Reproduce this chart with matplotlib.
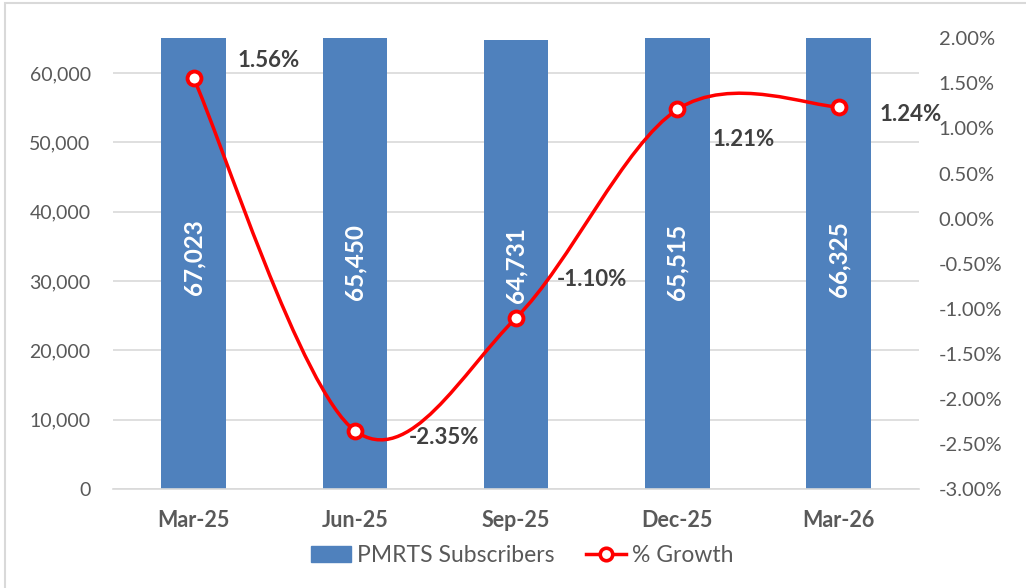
import matplotlib.pyplot as plt
from matplotlib.path import Path
from matplotlib.patches import PathPatch, Rectangle
from matplotlib.lines import Line2D
from matplotlib.ticker import FuncFormatter

quarters = ['Mar-25', 'Jun-25', 'Sep-25', 'Dec-25', 'Mar-26']
subscribers = [67023, 65450, 64731, 65515, 66325]
growth = [1.56, -2.35, -1.10, 1.21, 1.24]
growth_labels = ['1.56%', '-2.35%', '-1.10%', '1.21%', '1.24%']
label_offsets = [(44, 17), (54, -7), (41, 38), (35, -30), (41, -8)]

plt.rcParams['font.family'] = ['Lato', 'DejaVu Sans']
grey = '#595959'

fig = plt.figure(figsize=(10.26, 5.88), dpi=100)
ax = fig.add_axes([0.110, 0.168, 0.786, 0.767])
ax2 = ax.twinx()

x = list(range(len(quarters)))
ax.bar(x, subscribers, width=0.4, color='#4F81BD', zorder=2, label='PMRTS Subscribers')
for xi, v in zip(x, subscribers):
    ax.text(xi, v / 2, f'{v:,}', rotation=90, ha='center', va='center',
            color='white', fontsize=17.5, fontweight='bold', zorder=3)

ax.set_ylim(0, 65000)
ax.set_xlim(-0.5, len(quarters) - 0.5)
ax.set_yticks(range(0, 60001, 10000))
ax.yaxis.set_major_formatter(FuncFormatter(lambda v, p: f'{int(v):,}'))
ax.set_xticks(x)
ax.set_xticklabels(quarters, fontweight='bold', fontsize=15.5, color=grey)
ax.tick_params(axis='y', labelsize=14, labelcolor=grey, length=0, pad=16)
ax.tick_params(axis='x', length=0, pad=15)
ax.grid(axis='y', color='#D9D9D9', linewidth=1.2, zorder=0)
ax.set_axisbelow(True)
for s in ['top', 'left', 'right']:
    ax.spines[s].set_visible(False)
ax.spines['bottom'].set_color('#D9D9D9')
ax.spines['bottom'].set_linewidth(1.2)

# smoothed line (Catmull-Rom style bezier through the points)
pts = list(zip(x, growth))
verts = [pts[0]]
codes = [Path.MOVETO]
for i in range(len(pts) - 1):
    p0 = pts[i - 1] if i > 0 else pts[i]
    p1 = pts[i]
    p2 = pts[i + 1]
    p3 = pts[i + 2] if i + 2 < len(pts) else pts[i + 1]
    c1 = (p1[0] + (p2[0] - p0[0]) / 6, p1[1] + (p2[1] - p0[1]) / 6)
    c2 = (p2[0] - (p3[0] - p1[0]) / 6, p2[1] - (p3[1] - p1[1]) / 6)
    verts += [c1, c2, p2]
    codes += [Path.CURVE4] * 3
ax2.add_patch(PathPatch(Path(verts, codes), facecolor='none', edgecolor='#FF0000',
                        linewidth=2.5, zorder=3))
ax2.plot(x, growth, linestyle='none', marker='o', markersize=10, markerfacecolor='white',
         markeredgecolor='#FF0000', markeredgewidth=2.8, zorder=4)
for xi, g, t, off in zip(x, growth, growth_labels, label_offsets):
    ax2.annotate(t, (xi, g), xytext=off, textcoords='offset pixels', ha='left', va='center',
                 fontsize=16, fontweight='bold', color='#404040', zorder=5)

ax2.set_ylim(-3.0, 2.0)
ax2.set_yticks([-3 + 0.5 * i for i in range(11)])
ax2.yaxis.set_major_formatter(FuncFormatter(lambda v, p: f'{v:.2f}%'))
ax2.tick_params(axis='y', labelsize=14.5, labelcolor=grey, length=0, pad=14)
for s in ['top', 'left', 'right', 'bottom']:
    ax2.spines[s].set_visible(False)

handles = [Rectangle((0, 0), 1, 1, color='#4F81BD'),
           Line2D([0], [0], color='#FF0000', linewidth=2.5, marker='o', markersize=9,
                  markerfacecolor='white', markeredgecolor='#FF0000', markeredgewidth=2.6)]
fig.legend(handles, ['PMRTS Subscribers', '% Growth'], loc='center',
           bbox_to_anchor=(0.509, 0.056), ncol=2, frameon=False, fontsize=16.5,
           labelcolor=grey, handlelength=1.75, handletextpad=0.25, columnspacing=1.4)

fig.patches.append(Rectangle((0.005, -0.01), 1.0, 1.005, transform=fig.transFigure,
                             fill=False, edgecolor='#D9D9D9', linewidth=1.5))

fig.savefig('out.png', dpi=100)
